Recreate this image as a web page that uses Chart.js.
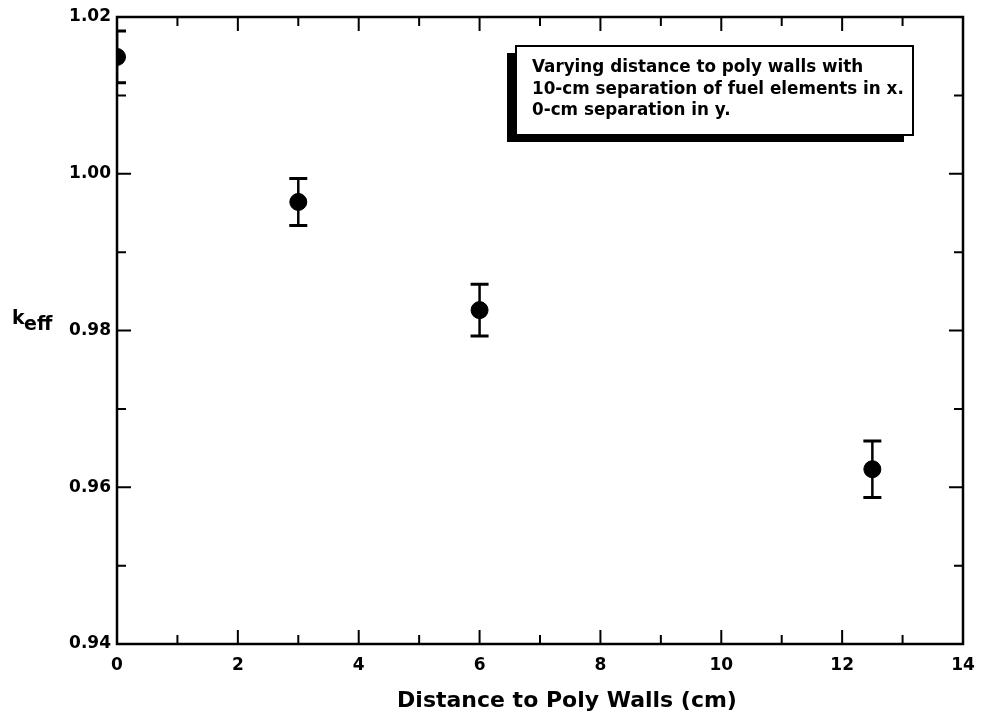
<!DOCTYPE html>
<html>
<head>
<meta charset="utf-8">
<script src="https://cdn.jsdelivr.net/npm/chart.js@4.4.1/dist/chart.umd.min.js"></script>
<style>
html,body{margin:0;padding:0;background:#fff;}
#wrap{width:981px;height:725px;position:relative;}
</style>
</head>
<body>
<div id="wrap"><canvas id="c" width="981" height="725"></canvas></div>
<script>
// Data
const distances = [0, 3, 6, 12.5];
const keff = [1.0149, 0.9964, 0.9826, 0.9623];
const keffErr = [0.0033, 0.0030, 0.0033, 0.0036];
const xTicks = [0, 2, 4, 6, 8, 10, 12, 14];
const yTicks = [0.94, 0.96, 0.98, 1.00, 1.02];
const legendLines = [
  "Varying distance to poly walls with",
  "10-cm separation of fuel elements in x.",
  "0-cm separation in y."
];
const xTitle = "Distance to Poly Walls (cm)";

const points = distances.map((d, i) => ({x: d, y: keff[i]}));

const framePlugin = {
  id: 'frame',
  afterDatasetsDraw(chart) {
    const {ctx, chartArea: a, scales: {x, y}} = chart;
    ctx.save();
    // error bars (clipped to plot area)
    ctx.beginPath();
    ctx.rect(a.left, a.top, a.right - a.left, a.bottom - a.top);
    ctx.clip();
    ctx.strokeStyle = '#000';
    distances.forEach((d, i) => {
      const px = x.getPixelForValue(d);
      const yHi = y.getPixelForValue(keff[i] + keffErr[i]);
      const yLo = y.getPixelForValue(keff[i] - keffErr[i]);
      ctx.lineWidth = 2.5;
      ctx.beginPath();
      ctx.moveTo(px, yHi); ctx.lineTo(px, yLo); ctx.stroke();
      ctx.lineWidth = 3;
      ctx.beginPath();
      ctx.moveTo(px - 9, yHi); ctx.lineTo(px + 9, yHi);
      ctx.moveTo(px - 9, yLo); ctx.lineTo(px + 9, yLo);
      ctx.stroke();
    });
    ctx.restore();

    ctx.save();
    ctx.strokeStyle = '#000';
    // frame
    ctx.lineWidth = 2.5;
    ctx.strokeRect(a.left, a.top, a.right - a.left, a.bottom - a.top);
    // inside ticks
    ctx.lineWidth = 2;
    ctx.beginPath();
    for (let v = 1; v < 14; v++) {
      const px = x.getPixelForValue(v);
      const len = (v % 2 === 0) ? 14 : 9;
      ctx.moveTo(px, a.bottom); ctx.lineTo(px, a.bottom - len);
      ctx.moveTo(px, a.top); ctx.lineTo(px, a.top + len);
    }
    for (let k = 1; k < 8; k++) {
      const v = 0.94 + k * 0.01;
      const py = y.getPixelForValue(v);
      const len = (k % 2 === 0) ? 14 : 9;
      ctx.moveTo(a.left, py); ctx.lineTo(a.left + len, py);
      ctx.moveTo(a.right, py); ctx.lineTo(a.right - len, py);
    }
    ctx.stroke();

    // legend box with drop shadow
    const bx = a.left + 399, by = a.top + 29, bw = 397, bh = 89;
    ctx.fillStyle = '#000';
    ctx.fillRect(bx - 9, by + 7, bw, bh);
    ctx.fillStyle = '#fff';
    ctx.fillRect(bx, by, bw, bh);
    ctx.lineWidth = 2;
    ctx.strokeRect(bx, by, bw, bh);
    ctx.fillStyle = '#000';
    ctx.font = 'bold 16.8px "DejaVu Sans"';
    ctx.textBaseline = 'alphabetic';
    ctx.textAlign = 'left';
    legendLines.forEach((t, i) => ctx.fillText(t, bx + 16, by + 26 + i * 21.5));

    // x axis title
    ctx.font = 'bold 22px "DejaVu Sans"';
    ctx.textAlign = 'center';
    ctx.fillText(xTitle, (a.left + a.right) / 2 + 27, a.bottom + 63);

    // y axis title k_eff
    ctx.textAlign = 'left';
    ctx.font = 'bold 19px "DejaVu Sans"';
    const yb = y.getPixelForValue(0.98);
    ctx.fillText('k', 12, yb - 7);
    ctx.fillText('eff', 24, yb - 1);
    ctx.restore();
  }
};

new Chart(document.getElementById('c'), {
  type: 'scatter',
  data: {
    datasets: [{
      data: points,
      backgroundColor: '#000',
      borderColor: '#000',
      pointRadius: 8.5,
      pointHoverRadius: 8.5,
      showLine: false,
      clip: 0
    }]
  },
  options: {
    responsive: false,
    animation: false,
    events: [],
    layout: {padding: {top: 17, right: 18, left: 0, bottom: 0}},
    plugins: {legend: {display: false}, tooltip: {enabled: false}},
    scales: {
      x: {
        type: 'linear', min: 0, max: 14,
        afterBuildTicks(s) { s.ticks = xTicks.map(v => ({value: v})); },
        grid: {display: false, drawTicks: false},
        border: {display: false},
        ticks: {color: '#000', padding: 11, font: {family: 'DejaVu Sans', weight: 'bold', size: 17}, maxRotation: 0},
        afterFit(s) { s.height = 81; s.paddingLeft = 0; s.paddingRight = 0; }
      },
      y: {
        type: 'linear', min: 0.94, max: 1.02,
        afterBuildTicks(s) { s.ticks = yTicks.map(v => ({value: v})); },
        grid: {display: false, drawTicks: false},
        border: {display: false},
        ticks: {color: '#000', padding: 6, font: {family: 'DejaVu Sans', weight: 'bold', size: 17},
          callback: v => Number(v).toFixed(2)},
        afterFit(s) { s.width = 117; s.paddingTop = 0; s.paddingBottom = 0; }
      }
    }
  },
  plugins: [framePlugin]
});
</script>
</body>
</html>
